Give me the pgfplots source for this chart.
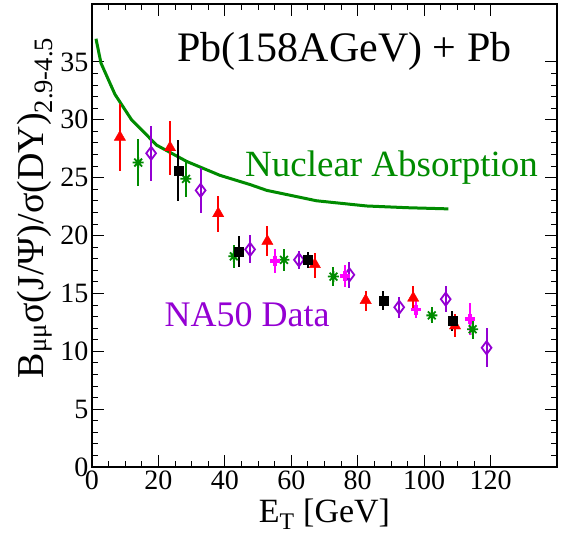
\documentclass[border=0pt]{standalone}
\usepackage{fontspec}
\setmainfont{Liberation Serif}
\usepackage{pgfplots}
\usepackage{pgfplotstable}
\pgfplotsset{compat=1.18}
\definecolor{mygreen}{RGB}{0,139,0}
\definecolor{myviolet}{RGB}{148,0,211}
\definecolor{mymag}{RGB}{255,0,255}
\pgfdeclareplotmark{burst}{%
 \pgfpathmoveto{\pgfqpoint{-\pgfplotmarksize}{0pt}}\pgfpathlineto{\pgfqpoint{\pgfplotmarksize}{0pt}}%
 \pgfpathmoveto{\pgfqpoint{0pt}{-\pgfplotmarksize}}\pgfpathlineto{\pgfqpoint{0pt}{\pgfplotmarksize}}%
 \pgfpathmoveto{\pgfqpoint{-0.707\pgfplotmarksize}{-0.707\pgfplotmarksize}}\pgfpathlineto{\pgfqpoint{0.707\pgfplotmarksize}{0.707\pgfplotmarksize}}%
 \pgfpathmoveto{\pgfqpoint{-0.707\pgfplotmarksize}{0.707\pgfplotmarksize}}\pgfpathlineto{\pgfqpoint{0.707\pgfplotmarksize}{-0.707\pgfplotmarksize}}%
 \pgfusepathqstroke}

\pgfplotstableread{
x y ep em
8.4 28.5 2.9 2.9
23.5 27.6 2.3 2.4
38.0 21.9 1.5 1.6
52.8 19.5 1.3 1.3
67.1 17.5 1.0 1.2
82.4 14.4 0.8 0.9
96.7 14.6 1.0 1.0
109.3 12.2 1.0 1.0
}\redtab
\pgfplotstableread{
x y ep em
13.9 26.3 2.0 2.0
28.3 24.9 1.6 1.6
42.7 18.2 1.0 1.0
57.8 17.9 0.95 0.95
72.7 16.45 0.85 0.85
102.3 13.1 0.7 0.7
114.6 11.9 0.8 0.8
}\greentab
\pgfplotstableread{
x y ep em
17.8 27.1 2.35 2.35
32.7 23.9 1.95 1.95
47.6 18.8 1.2 1.2
62.3 17.9 0.8 0.8
77.5 16.6 1.1 1.1
92.5 13.8 0.9 0.9
106.5 14.5 1.1 1.1
118.8 10.3 1.7 1.7
}\diamtab
\pgfplotstableread{
x y ep em
26.0 25.6 2.65 2.65
44.3 18.6 1.35 1.35
64.9 17.9 0.7 0.7
87.7 14.4 0.8 0.8
108.5 12.6 0.85 0.85
}\blacktab
\pgfplotstableread{
x y ep em
55.1 17.8 1.0 1.0
76.2 16.5 0.95 0.95
97.5 13.6 0.7 0.7
113.8 12.8 1.4 1.4
}\magtab

\begin{document}
\begin{tikzpicture}
\begin{axis}[
 scale only axis, width=465bp, height=463bp,
 xmin=0, xmax=140, ymin=0, ymax=40,
 xtick={0,20,...,120}, ytick={0,5,...,35},
 minor x tick num=3, minor y tick num=4,
 tick align=inside, major tick length=12bp, minor tick length=6bp,
 tick style={black, line width=0.8bp},
 axis line style={line width=1.2bp},
 tick label style={font=\fontsize{28bp}{30bp}\selectfont},
 /pgf/number format/assume math mode=true,
 xlabel={E\textsubscript{T} [GeV]},
 ylabel={B\textsubscript{μμ}σ(J/Ψ)/σ(DY)\textsubscript{2.9-4.5}},
 every axis x label/.style={at={(axis description cs:0.5,-0.119)}, anchor=base, font=\fontsize{34bp}{36bp}\selectfont},
 every axis y label/.style={at={(axis description cs:-0.105,0.56)}, anchor=base, rotate=90, font=\fontsize{38bp}{40bp}\selectfont},
 error bars/error bar style={line width=2bp},
 clip=false,
]
\addplot[mygreen, line width=3bp, mark=none] coordinates {
(1.2,37.0) (2.7,34.9) (6.9,32.2) (11.9,30.0) (19.5,27.8) (28.5,26.4) (38.5,25.2) (47.6,24.4) (52.6,23.9) (67.6,23.0) (82.7,22.55) (95,22.4) (107.3,22.3)};

\addplot[only marks, red, mark=triangle*, mark size=6.5bp,
 error bars/.cd, y dir=both, y explicit, error mark=none]
 table[x=x, y=y, y error plus=ep, y error minus=em] {\redtab};
\addplot[only marks, mygreen, mark=burst, mark size=5.5bp, mark options={line width=1.8bp},
 error bars/.cd, y dir=both, y explicit, error mark=none]
 table[x=x, y=y, y error plus=ep, y error minus=em] {\greentab};
\addplot[only marks, myviolet, mark=diamond, mark size=6.5bp, mark options={line width=1.8bp, fill=white},
 error bars/.cd, y dir=both, y explicit, error mark=none]
 table[x=x, y=y, y error plus=ep, y error minus=em] {\diamtab};
\addplot[only marks, black, mark=square*, mark size=4.5bp,
 error bars/.cd, y dir=both, y explicit, error mark=none]
 table[x=x, y=y, y error plus=ep, y error minus=em] {\blacktab};
\addplot[only marks, mymag, mark=+, mark size=5bp, mark options={line width=3.5bp},
 error bars/.cd, y dir=both, y explicit, error mark=none]
 table[x=x, y=y, y error plus=ep, y error minus=em] {\magtab};

\node[anchor=base, font=\fontsize{42bp}{44bp}\selectfont] at (axis cs:76,35.0) {Pb(158AGeV) + Pb};
\node[anchor=base, text=mygreen, font=\fontsize{37bp}{39bp}\selectfont] at (axis cs:90.2,25.1) {Nuclear Absorption};
\node[anchor=base, text=myviolet, font=\fontsize{36bp}{38bp}\selectfont] at (axis cs:46.7,12.1) {NA50 Data};
\end{axis}
\pgfresetboundingbox
\path[use as bounding box] ([shift={(-92bp,-71bp)}]current axis.south west) rectangle ([shift={(10bp,4bp)}]current axis.north east);
\end{tikzpicture}
\end{document}
